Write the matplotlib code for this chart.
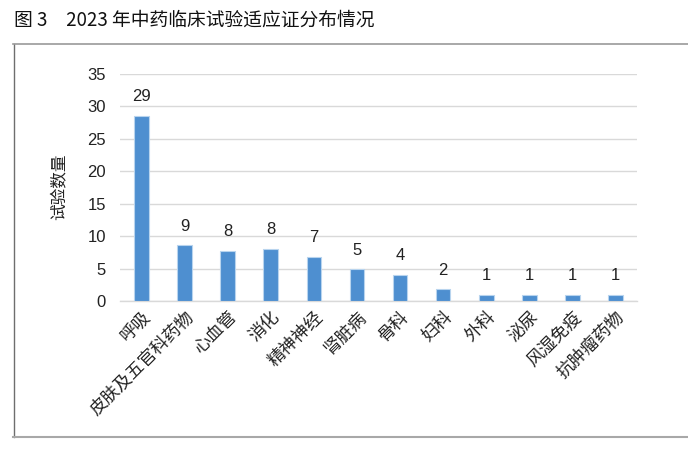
import matplotlib
matplotlib.use("Agg")
import matplotlib.pyplot as plt
from matplotlib.lines import Line2D

plt.rcParams['font.family'] = ['Noto Sans CJK SC', 'DejaVu Sans']

categories = ["呼吸", "皮肤及五官科药物", "心血管", "消化", "精神神经", "肾脏病",
              "骨科", "妇科", "外科", "泌尿", "风湿免疫", "抗肿瘤药物"]
bar_heights = [28.6, 8.6, 7.7, 8.0, 6.8, 4.9, 4.0, 1.8, 0.95, 0.95, 0.95, 0.95]
value_labels = ["29", "9", "8", "8", "7", "5", "4", "2", "1", "1", "1", "1"]
yticks = [0, 5, 10, 15, 20, 25, 30, 35]
title = "图 3　2023 年中药临床试验适应证分布情况"
ylabel = "试验数量"

W, H = 688, 449
fig = plt.figure(figsize=(W / 100, H / 100), dpi=100)

ax = fig.add_axes([120 / W, 1 - 301 / H, (637 - 120) / W, (301 - 74) / H])
x = list(range(len(categories)))
ax.bar(x, bar_heights, width=0.34, color="#4E8FD0", edgecolor="#B8D4EE",
       linewidth=0.8, zorder=3)
for xi, h, lab in zip(x, bar_heights, value_labels):
    ax.text(xi, h + 1.8, lab, ha="center", va="bottom", fontsize=12,
            color="#222222", family=['Liberation Sans', 'DejaVu Sans'])

ax.set_xlim(-0.5, len(categories) - 0.5)
ax.set_ylim(0, 35)
ax.set_yticks(yticks)
ax.set_yticklabels([str(t) for t in yticks], fontsize=12, color="#222222",
                   family=['Liberation Sans', 'DejaVu Sans'])
ax.yaxis.grid(True, color="#D9D9D9", linewidth=1.0, zorder=0)
ax.set_axisbelow(True)
for s in ["top", "right", "left"]:
    ax.spines[s].set_visible(False)
ax.spines["bottom"].set_color("#D9D9D9")
ax.spines["bottom"].set_linewidth(1.0)
ax.tick_params(axis="both", length=0, pad=10)
ax.set_xticks(x)
ax.set_xticklabels(categories, rotation=45, ha="right", va="top",
                   rotation_mode="anchor", fontsize=12.5, color="#222222")
ax.tick_params(axis="x", pad=5)

fig.text(60 / W, 1 - 187 / H, ylabel, rotation=90, ha="center", va="center",
         fontsize=12, color="#222222")

fig.text(14 / W, 1 - 20 / H, title, ha="left", va="center", fontsize=13.5,
         color="#111111")

# frame
fig.add_artist(Line2D([13.5 / W, 13.5 / W], [1 - 44 / H, 1 - 437 / H],
                      transform=fig.transFigure, color="#6E6E6E", linewidth=1.0))
fig.add_artist(Line2D([13 / W, 1.0], [1 - 44 / H, 1 - 44 / H],
                      transform=fig.transFigure, color="#9A9A9A", linewidth=1.2))
fig.add_artist(Line2D([13 / W, 1.0], [1 - 437 / H, 1 - 437 / H],
                      transform=fig.transFigure, color="#A8A8A8", linewidth=1.5))

fig.savefig("out.png", dpi=100)
